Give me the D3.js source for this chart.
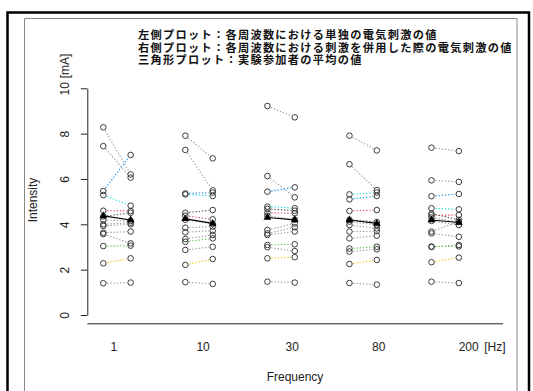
<!DOCTYPE html>
<html>
<head>
<meta charset="utf-8">
<script src="https://cdn.jsdelivr.net/npm/d3@7"></script>
<style>
  body { margin: 0; background: #fff; }
  svg { display: block; }
</style>
</head>
<body>
<svg id="chart" width="533" height="391"></svg>
<script>
// Frequencies and where their labels sit on the x axis (in plot units)
const frequencies = ["1", "10", "30", "80", "200"];
const freqLabelAt = [1.37, 4.63, 7.89, 11.05, 14.34];
const yTicks = [0, 2, 4, 6, 8, 10];

// Stimulation intensity [mA] per participant (same order in every array)
// "single": stimulus alone (left column), "combined": with the combined stimulus (right column)
const single1     = [8.28, 7.45, 5.47, 5.29, 4.60, 4.35, 4.19, 4.00, 3.93, 3.63, 3.57, 3.04, 2.28, 1.40];
const combined1   = [6.20, 6.06, 7.06, 4.82, 4.59, 4.51, 4.15, 4.07, 4.00, 3.68, 3.16, 3.06, 2.50, 1.43];
const single10    = [7.91, 7.28, 5.36, 5.32, 4.38, 4.51, 4.20, 3.85, 3.65, 3.35, 2.87, 3.23, 2.21, 1.45];
const combined10  = [6.91, 5.50, 5.40, 5.25, 4.22, 4.63, 4.02, 3.90, 3.72, 3.53, 3.01, 3.38, 2.47, 1.37];
const single30    = [9.22, 6.13, 5.44, 4.78, 4.51, 4.68, 4.38, 3.75, 3.60, 3.53, 2.99, 3.09, 2.50, 1.47];
const combined30  = [8.72, 5.19, 5.63, 4.71, 4.49, 4.60, 4.20, 4.04, 3.87, 3.68, 2.82, 3.12, 2.55, 1.43];
const single80    = [7.91, 6.65, 5.10, 5.32, 4.59, 4.20, 4.12, 3.97, 3.68, 3.38, 2.80, 2.93, 2.25, 1.41];
const combined80  = [7.26, 5.51, 5.25, 5.40, 4.63, 4.10, 3.97, 3.82, 3.70, 3.50, 2.90, 3.01, 2.43, 1.34];
const single200   = [7.38, 5.94, 5.24, 4.71, 4.40, 4.47, 4.30, 4.15, 3.68, 3.60, 3.00, 3.02, 2.33, 1.47];
const combined200 = [7.23, 5.87, 5.34, 4.66, 4.41, 4.20, 4.10, 3.97, 4.12, 3.45, 3.09, 3.03, 2.53, 1.41];

// Participant averages (triangles)
const meanSingle   = [4.37, 4.24, 4.30, 4.19, 4.19];
const meanCombined = [4.19, 4.04, 4.20, 4.04, 4.08];

// Line colour of each participant
const participantColors = [
  "#9E9E9E", "#9E9E9E", "#2297E6", "#28E2E5", "#DF536B", "#555555", "#9E9E9E",
  "#9E9E9E", "#9E9E9E", "#9E9E9E", "#9E9E9E", "#61D04F", "#F5C710", "#9E9E9E"
];

const noteLines = [
  "左側プロット：各周波数における単独の電気刺激の値",
  "右側プロット：各周波数における刺激を併用した際の電気刺激の値",
  "三角形プロット：実験参加者の平均の値"
];

const singleByFreq = [single1, single10, single30, single80, single200];
const combinedByFreq = [combined1, combined10, combined30, combined80, combined200];

const latin = "'Liberation Sans', Arial, Helvetica, sans-serif";
// Latin face first keeps the line box compact; kana/kanji fall through to Noto CJK
const notesFont = "'Liberation Sans', 'Noto Sans CJK JP', sans-serif";

const svg = d3.select("#chart");

// Frame
svg.append("path")
  .attr("d", "M7.5,400V12.5H529V400")
  .attr("fill", "none").attr("stroke", "#000").attr("stroke-width", 2.5);
svg.append("path")
  .attr("d", "M24.5,400V18.5H517V400")
  .attr("fill", "none").attr("stroke", "#888").attr("stroke-width", 1);

// Scales
const x = d3.scaleLinear().domain([0.4, 15.6]).range([86.9, 502.6]);
const y = d3.scaleLinear().domain([0, 10]).range([315, 88.3]);

// Y axis
const yAxis = svg.append("g")
  .attr("transform", `translate(${87.3},0)`)
  .call(d3.axisLeft(y).tickValues(yTicks).tickSizeInner(6.5).tickSizeOuter(0));
yAxis.select(".domain").attr("stroke", "#222").attr("stroke-width", 1);
yAxis.selectAll(".tick line").attr("stroke", "#222");
yAxis.selectAll(".tick text")
  .attr("x", 0).attr("dy", null)
  .attr("transform", "translate(-18.5,0) rotate(-90)")
  .attr("text-anchor", "middle")
  .attr("font-family", latin).attr("font-size", 12).attr("fill", "#222");

// unit next to the top tick
svg.append("text")
  .attr("transform", `translate(${87.3 - 18.5},${y(10) - 10}) rotate(-90)`)
  .attr("text-anchor", "start")
  .attr("font-family", latin).attr("font-size", 12).attr("fill", "#222")
  .text("[mA]");

// X axis
const xAxis = svg.append("g")
  .attr("transform", `translate(0,${323.3})`)
  .call(d3.axisBottom(x).tickValues(freqLabelAt)
    .tickFormat((d, i) => frequencies[i])
    .tickSizeInner(0).tickSizeOuter(0).tickPadding(19.5));
xAxis.select(".domain").attr("stroke", "#222").attr("stroke-width", 1);
xAxis.selectAll(".tick text")
  .attr("font-family", latin).attr("font-size", 12).attr("fill", "#222");

svg.append("text")
  .attr("x", x(15.32)).attr("y", 323.3 + 19.5 + 8.5)
  .attr("text-anchor", "middle")
  .attr("font-family", latin).attr("font-size", 12).attr("fill", "#222")
  .text("[Hz]");

// Axis titles
svg.append("text")
  .attr("x", 295).attr("y", 381)
  .attr("text-anchor", "middle")
  .attr("font-family", latin).attr("font-size", 12).attr("fill", "#222")
  .text("Frequency");
svg.append("text")
  .attr("transform", `translate(37,${200}) rotate(-90)`)
  .attr("text-anchor", "middle")
  .attr("font-family", latin).attr("font-size", 12).attr("fill", "#222")
  .text("Intensity");

// Explanatory notes
svg.append("g").attr("lang", "ja").selectAll("text").data(noteLines).join("text")
  .attr("x", 138).attr("y", (d, i) => 39 + i * 12.6)
  .attr("font-family", notesFont).attr("font-size", 11.2).attr("font-weight", 700)
  .attr("letter-spacing", 1.3)
  .attr("fill", "#111")
  .text(d => d);

// Participant pairs
const r = 2.8;
const pairs = [];
frequencies.forEach((f, i) => {
  singleByFreq[i].forEach((s, p) => {
    pairs.push({ x0: 1 + 3 * i, x1: 2 + 3 * i, s, c: combinedByFreq[i][p], color: participantColors[p] });
  });
});

// dotted connectors, trimmed to leave a gap around each circle
const gap = r + 1;
svg.append("g").selectAll("line").data(pairs).join("line")
  .each(function (d) {
    const ax = x(d.x0), ay = y(d.s), bx = x(d.x1), by = y(d.c);
    const len = Math.hypot(bx - ax, by - ay);
    const ux = (bx - ax) / len, uy = (by - ay) / len;
    d3.select(this)
      .attr("x1", ax + ux * gap).attr("y1", ay + uy * gap)
      .attr("x2", bx - ux * gap).attr("y2", by - uy * gap);
  })
  .attr("stroke", d => d.color)
  .attr("stroke-width", 1.1)
  .attr("stroke-dasharray", "1.4,1.8");

// open circles
const pts = pairs.flatMap(d => [{ px: d.x0, v: d.s }, { px: d.x1, v: d.c }]);
svg.append("g").selectAll("circle").data(pts).join("circle")
  .attr("cx", d => x(d.px)).attr("cy", d => y(d.v)).attr("r", r)
  .attr("fill", "none").attr("stroke", "#3a3a3a").attr("stroke-width", 1);

// averages: solid line with filled triangles
const means = frequencies.map((f, i) => ({ x0: 1 + 3 * i, x1: 2 + 3 * i, s: meanSingle[i], c: meanCombined[i] }));
svg.append("g").selectAll("line").data(means).join("line")
  .attr("x1", d => x(d.x0)).attr("y1", d => y(d.s))
  .attr("x2", d => x(d.x1)).attr("y2", d => y(d.c))
  .attr("stroke", "#000").attr("stroke-width", 1.2);
const tri = d3.symbol().type(d3.symbolTriangle).size(26);
svg.append("g").selectAll("path")
  .data(means.flatMap(d => [{ px: d.x0, v: d.s }, { px: d.x1, v: d.c }]))
  .join("path")
  .attr("transform", d => `translate(${x(d.px)},${y(d.v)})`)
  .attr("d", tri)
  .attr("fill", "#000");
</script>
</body>
</html>
